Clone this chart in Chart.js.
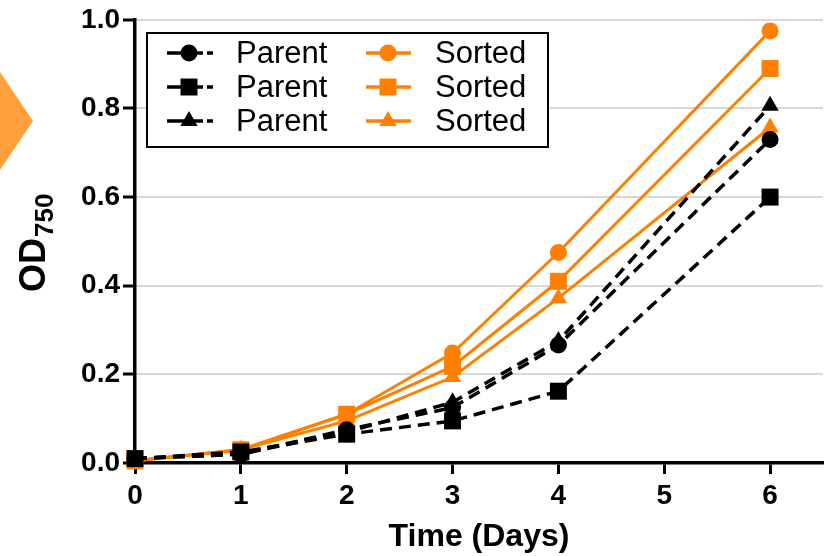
<!DOCTYPE html>
<html>
<head>
<meta charset="utf-8">
<script src="https://cdn.jsdelivr.net/npm/chart.js@4/dist/chart.umd.min.js"></script>
<style>
    body { margin: 0; background: #fff; }
    #wrap { width: 827px; height: 556px; }
</style>
</head>
<body>
<div id="wrap"><canvas id="chart" width="827" height="556"></canvas></div>
<script>
// time points (days)
var days = [0, 1, 2, 3, 4, 6];

// OD750 readings
var parentCircle = [0.01, 0.02, 0.075, 0.125, 0.266, 0.73];
var parentSquare = [0.01, 0.025, 0.065, 0.095, 0.162, 0.60];
var parentTriangle = [0.01, 0.02, 0.07, 0.137, 0.275, 0.806];
var sortedCircle = [0.005, 0.03, 0.11, 0.248, 0.475, 0.975];
var sortedSquare = [0.005, 0.03, 0.11, 0.218, 0.41, 0.89];
var sortedTriangle = [0.005, 0.03, 0.095, 0.194, 0.372, 0.757];

var yTicks = [0.0, 0.2, 0.4, 0.6, 0.8, 1.0];
var xTitle = 'Time (Days)';
var yTitle = 'OD';
var ySub = '750';

var FONT = '"Liberation Sans", Arial, sans-serif';
var ORANGE = '#FF8000';

function pts(vals) {
    return vals.map(function (v, i) { return { x: days[i], y: v }; });
}

function parentSet(label, vals, style, r) {
    return {
        label: label, data: pts(vals),
        borderColor: '#000', backgroundColor: '#000',
        borderWidth: 3.5, borderDash: [12, 7],
        pointStyle: style, pointRadius: r, pointHoverRadius: r,
        pointBorderWidth: 0, pointBackgroundColor: '#000'
    };
}

function sortedSet(label, vals, style, r) {
    return {
        label: label, data: pts(vals),
        borderColor: ORANGE, backgroundColor: ORANGE,
        borderWidth: 3,
        pointStyle: style, pointRadius: r, pointHoverRadius: r,
        pointBorderWidth: 0, pointBackgroundColor: ORANGE
    };
}

// first dataset ends up on top
var datasets = [
    parentSet('Parent', parentSquare, 'rect', 12),
    parentSet('Parent', parentCircle, 'circle', 8.5),
    parentSet('Parent', parentTriangle, 'triangle', 10),
    sortedSet('Sorted', sortedCircle, 'circle', 8.5),
    sortedSet('Sorted', sortedSquare, 'rect', 12),
    sortedSet('Sorted', sortedTriangle, 'triangle', 10)
];

// legend layout: [dataset index, column, row]
var legendItems = [[1, 0, 0], [0, 0, 1], [2, 0, 2], [3, 1, 0], [4, 1, 1], [5, 1, 2]];

var decor = {
    id: 'decor',
    beforeDraw: function (chart) {
        var ctx = chart.ctx;
        ctx.save();
        ctx.fillStyle = '#FFA03C';
        ctx.beginPath();
        ctx.moveTo(0, 72);
        ctx.lineTo(33, 121);
        ctx.lineTo(0, 170);
        ctx.closePath();
        ctx.fill();
        ctx.restore();
    },
    afterDraw: function (chart) {
        var ctx = chart.ctx;
        ctx.save();
        // y axis title with subscript
        ctx.translate(35, 292);
        ctx.rotate(-Math.PI / 2);
        ctx.fillStyle = '#000';
        ctx.textBaseline = 'middle';
        ctx.textAlign = 'left';
        ctx.font = 'bold 36px ' + FONT;
        ctx.fillText(yTitle, 0, 0);
        var w = ctx.measureText(yTitle).width;
        ctx.font = 'bold 26px ' + FONT;
        ctx.fillText(ySub, w + 1, 11);
        ctx.restore();

        // legend box
        ctx.save();
        ctx.fillStyle = '#fff';
        ctx.fillRect(147, 33, 401, 114);
        ctx.strokeStyle = '#000';
        ctx.lineWidth = 2;
        ctx.strokeRect(147, 33, 401, 114);
        ctx.font = '31px ' + FONT;
        ctx.textBaseline = 'middle';
        legendItems.forEach(function (it) {
            var ds = chart.data.datasets[it[0]];
            var y = 53 + it[2] * 34;
            var x0 = it[1] === 0 ? 167 : 366;
            var cx = x0 + 22;
            ctx.strokeStyle = ds.borderColor;
            ctx.lineWidth = 3.5;
            ctx.beginPath();
            if (ds.borderDash) {
                ctx.moveTo(x0, y); ctx.lineTo(x0 + 36, y);
                ctx.moveTo(x0 + 40, y); ctx.lineTo(x0 + 46, y);
            } else {
                ctx.moveTo(x0, y); ctx.lineTo(x0 + 45, y);
            }
            ctx.stroke();
            ctx.fillStyle = ds.borderColor;
            Chart.helpers.drawPoint(ctx, {
                pointStyle: ds.pointStyle, radius: ds.pointRadius, rotation: 0, borderWidth: 0
            }, cx, y);
            ctx.fillStyle = '#000';
            ctx.fillText(ds.label, x0 + 69, y + 1);
        });
        ctx.restore();
    }
};

var chart = new Chart(document.getElementById('chart'), {
    type: 'line',
    data: { datasets: datasets },
    options: {
        responsive: false,
        animation: false,
        events: [],
        layout: { autoPadding: false, padding: { left: 0, top: 19, right: 4, bottom: 0 } },
        elements: { line: { tension: 0 } },
        datasets: { line: { clip: false } },
        plugins: { legend: { display: false }, tooltip: { enabled: false } },
        scales: {
            x: {
                type: 'linear', min: 0, max: 6.5,
                afterFit: function (s) { s.height = 93; },
                border: { display: true, color: '#000', width: 3.5 },
                grid: {
                    drawOnChartArea: false, drawTicks: true, tickLength: 11,
                    tickColor: '#000', tickWidth: 3, color: '#000'
                },
                ticks: {
                    stepSize: 1, includeBounds: false, padding: 5, color: '#000',
                    font: { family: FONT, size: 28, weight: 'bold' }
                },
                title: {
                    display: true, text: xTitle, color: '#000',
                    padding: { top: 0, bottom: 0 },
                    font: { family: FONT, size: 32, weight: 'bold' }
                }
            },
            y: {
                type: 'linear', min: 0, max: 1,
                afterFit: function (s) { s.width = 135; },
                afterBuildTicks: function (s) {
                    s.ticks = yTicks.map(function (v) { return { value: v }; });
                },
                border: { display: true, color: '#000', width: 3.5 },
                grid: {
                    color: function (c) { return c.tick && c.tick.value === 0 ? 'rgba(0,0,0,0)' : '#d8d8d8'; },
                    lineWidth: 2, tickLength: 12, tickColor: '#000', tickWidth: 3
                },
                ticks: {
                    padding: 3, color: '#000',
                    font: { family: FONT, size: 28, weight: 'bold' },
                    callback: function (v) { return v.toFixed(1); }
                }
            }
        }
    },
    plugins: [decor]
});
</script>
</body>
</html>
